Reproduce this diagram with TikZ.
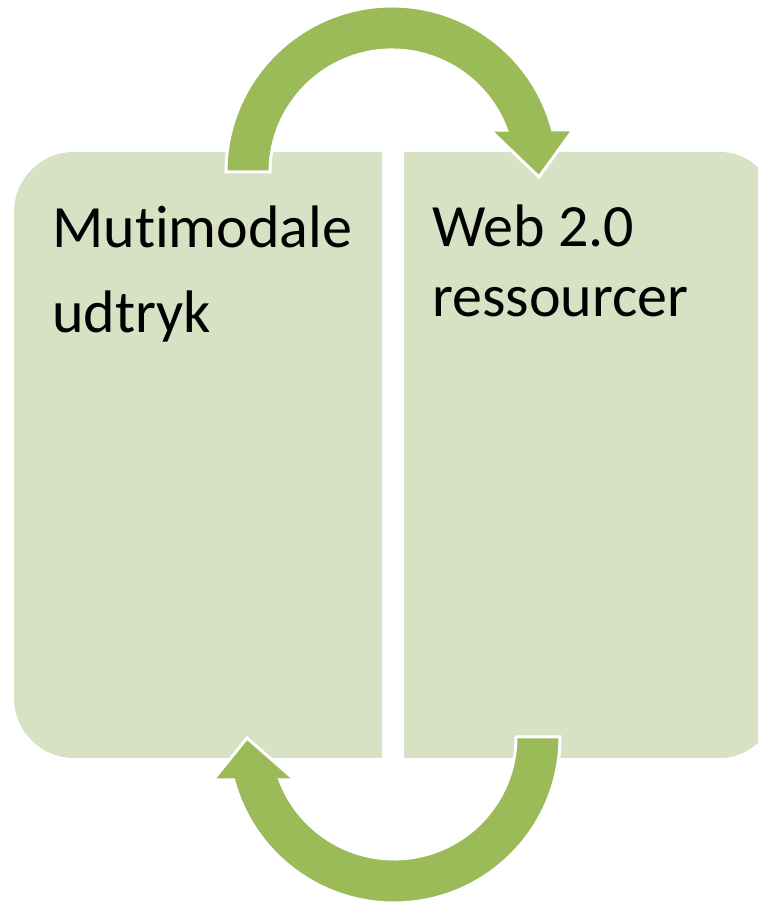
\documentclass[tikz,border=0pt]{standalone}
\usepackage{fontspec}
\setmainfont{Carlito}[Ligatures=NoCommon]
\usepackage{tikz}
\usetikzlibrary{calc}
\definecolor{boxgreen}{HTML}{D7E1C4}
\definecolor{arrowgreen}{HTML}{9BBB59}
\tikzset{
x=1pt, y=1pt, % one unit is one pixel of the layout
panel/.style={fill=boxgreen}, % the two light boxes
bendarrow/.style={fill=arrowgreen, draw=white, line width=3, line join=miter}, % the curved block arrows
label/.style={anchor=base west, inner sep=0, align=left}, % text in the boxes
}

\begin{document}
\begin{tikzpicture}
    \useasboundingbox (0,0) rectangle (758,904);
    \clip (0,0) rectangle (758,904);

    % boxes
    \fill[panel] (382,146) -- (74,146) arc[start angle=270, end angle=180, radius=60]
        -- (14,692) arc[start angle=180, end angle=90, radius=60] -- (382,752) -- cycle;
    \fill[panel] (404,146) -- (720,146) arc[start angle=270, end angle=360, radius=55]
        -- (775,697) arc[start angle=0, end angle=90, radius=55] -- (404,752) -- cycle;

    \node[label, font=\fontsize{60}{85}\selectfont] (multi) at (52,571) {Mutimodale\\udtryk};
    \node[label, font=\fontsize{60}{70}\selectfont] (web) at (432,587) {Web 2.0\\ressourcer};

    % arrows
    \coordinate (top) at (392,732);
    \coordinate (bot) at (394,167);
    \draw[bendarrow] ($(top)+(180:122)$) -- ($(top)+(180:166)$)
        arc[start angle=180, end angle=14.66, radius=166]
        -- (573,774) -- (539,727) -- (490,774)
        -- ($(top)+(20.1:122)$) arc[start angle=20.1, end angle=180, radius=122] -- cycle;
    \draw[bendarrow] ($(bot)+(0:122)$) -- ($(bot)+(0:166)$)
        arc[start angle=360, end angle=195, radius=166]
        -- (213,124) -- (247,166) -- (295,124)
        -- ($(bot)+(200.6:122)$) arc[start angle=200.6, end angle=360, radius=122] -- cycle;

\end{tikzpicture}
\end{document}
